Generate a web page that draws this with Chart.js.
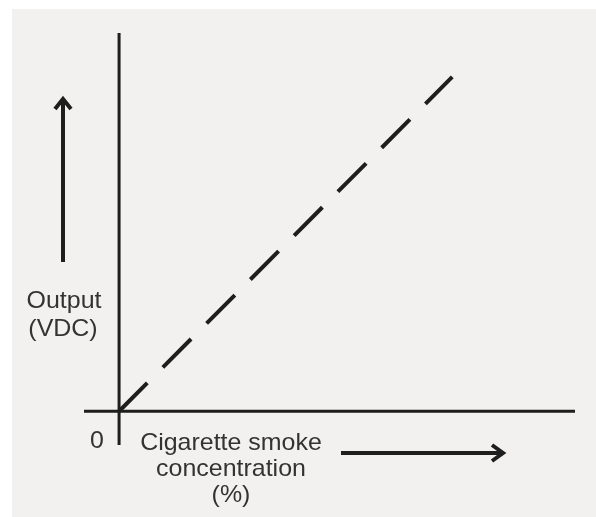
<!DOCTYPE html>
<html>
<head>
<meta charset="utf-8">
<script src="https://cdn.jsdelivr.net/npm/chart.js@4"></script>
<style>
  html, body { margin: 0; padding: 0; background: #ffffff; }
  #wrap { position: absolute; left: 0; top: 0; width: 596px; height: 517px; }
</style>
</head>
<body>
<div id="wrap"><canvas id="chart" width="596" height="517"></canvas></div>
<script>
// line data (arbitrary units, origin at 0,0)
const concentration = [0, 4.75];
const output = [0, 4.95];

const yLabel = ['Output', '(VDC)'];
const xLabel = ['Cigarette smoke', 'concentration', '(%)'];
const originLabel = '0';

const ink = '#1e1e1e';
const textColor = '#333333';

// draws text slightly widened, like the original lettering
function label(ctx, text, x, y) {
  ctx.save();
  ctx.translate(x, y);
  ctx.scale(1.04, 1);
  ctx.fillText(text, 0, 0);
  ctx.restore();
}

// background, axes, arrows and labels
const decorations = {
  id: 'decorations',
  beforeDraw(chart) {
    const ctx = chart.ctx;
    ctx.save();
    ctx.fillStyle = '#f2f1f0';
    ctx.fillRect(12, 9, chart.width - 12, chart.height - 9);
    ctx.restore();
  },
  beforeDatasetsDraw(chart) {
    const ctx = chart.ctx;
    const a = chart.chartArea;
    const x0 = chart.scales.x.getPixelForValue(0);
    const y0 = chart.scales.y.getPixelForValue(0);
    ctx.save();
    ctx.strokeStyle = ink;
    ctx.lineWidth = 3;
    ctx.beginPath();
    ctx.moveTo(x0, a.top);
    ctx.lineTo(x0, a.bottom);
    ctx.moveTo(a.left, y0);
    ctx.lineTo(a.right, y0);
    ctx.stroke();
    ctx.restore();
  },
  afterDraw(chart) {
    const ctx = chart.ctx;
    ctx.save();
    ctx.strokeStyle = ink;
    ctx.lineWidth = 4;
    ctx.lineCap = 'butt';
    // up arrow
    ctx.beginPath();
    ctx.moveTo(63, 262);
    ctx.lineTo(63, 100);
    ctx.stroke();
    ctx.beginPath();
    ctx.lineJoin = 'miter';
    ctx.moveTo(55, 109);
    ctx.lineTo(63, 99);
    ctx.lineTo(71, 109);
    ctx.stroke();
    // right arrow
    ctx.beginPath();
    ctx.moveTo(341, 453);
    ctx.lineTo(502, 453);
    ctx.stroke();
    ctx.beginPath();
    ctx.moveTo(492, 445);
    ctx.lineTo(503, 453);
    ctx.lineTo(492, 461);
    ctx.stroke();

    ctx.fillStyle = textColor;
    ctx.font = '24px "Liberation Sans", Arial, sans-serif';
    ctx.textAlign = 'center';
    ctx.textBaseline = 'middle';
    label(ctx, yLabel[0], 64, 301);
    label(ctx, yLabel[1], 63, 329);
    label(ctx, originLabel, 97, 441);
    label(ctx, xLabel[0], 231, 443);
    label(ctx, xLabel[1], 231, 469);
    label(ctx, xLabel[2], 231, 495);
    ctx.restore();
  }
};

new Chart(document.getElementById('chart'), {
  type: 'scatter',
  data: {
    datasets: [{
      data: concentration.map((x, i) => ({ x: x, y: output[i] })),
      showLine: true,
      borderColor: ink,
      borderWidth: 4,
      borderDash: [40, 22],
      borderCapStyle: 'butt',
      pointRadius: 0
    }]
  },
  options: {
    responsive: false,
    animation: false,
    layout: { padding: { left: 84, right: 21, top: 33, bottom: 72 } },
    plugins: { legend: { display: false }, tooltip: { enabled: false } },
    scales: {
      x: {
        type: 'linear', min: -0.5, max: 6.5,
        display: false
      },
      y: {
        type: 'linear', min: -0.5, max: 5.6,
        display: false
      }
    }
  },
  plugins: [decorations]
});
</script>
</body>
</html>
